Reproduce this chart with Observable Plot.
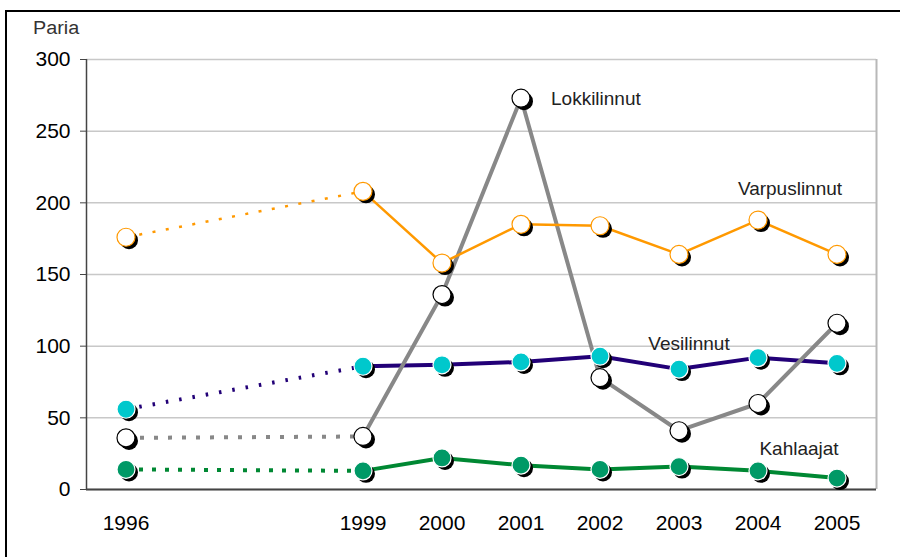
<!DOCTYPE html>
<html>
<head>
<meta charset="utf-8">
<script src="https://cdn.jsdelivr.net/npm/d3@7"></script>
<script src="https://cdn.jsdelivr.net/npm/@observablehq/plot@0.6"></script>
<style>
  html, body { margin: 0; padding: 0; background: #fff; }
  #wrap { position: relative; width: 900px; height: 557px; overflow: hidden; font-family: "Liberation Sans", Arial, sans-serif; }
  #frame { position: absolute; left: 5px; top: 10px; width: 910px; height: 560px; border-left: 2px solid #000; border-top: 2px solid #000; }
  #unit { position: absolute; left: 33px; top: 17px; font-size: 18px; line-height: 22px; color: #333; transform: scaleX(1.1); transform-origin: left center; }
  #chart { position: absolute; left: 0; top: 0; }
</style>
</head>
<body>
<div id="wrap">
  <div id="frame"></div>
  <div id="chart"></div>
  <div id="unit">Paria</div>
</div>
<script>
const years = [1996, 1999, 2000, 2001, 2002, 2003, 2004, 2005];
const seriesNames = ["Kahlaajat", "Vesilinnut", "Lokkilinnut", "Varpuslinnut"];
const kahlaajat    = [14, 13, 22, 17, 14, 16, 13, 8];
const vesilinnut   = [56, 86, 87, 89, 93, 84, 92, 88];
const lokkilinnut  = [36, 37, 136, 273, 78, 41, 60, 116];
const varpuslinnut = [176, 208, 158, 185, 184, 164, 188, 164];
const yTicks = [0, 50, 100, 150, 200, 250, 300];
const unitLabel = "Paria";

// styling per series
const styles = {
  Kahlaajat:    {line: "#008833", width: 4,   dash: "4,9",  fill: "#009966", stroke: "#ffffff", labelAt: 2004, dx: 41, dy: -22, anchor: "middle"},
  Vesilinnut:   {line: "#220077", width: 4,   dash: "2.5,11", fill: "#00c8cc", stroke: "#ffffff", labelAt: 2003, dx: 10, dy: -25, anchor: "middle"},
  Lokkilinnut:  {line: "#888888", width: 4,   dash: "4,10", fill: "#ffffff", stroke: "#000000", labelAt: 2001, dx: 30, dy: 1, anchor: "start"},
  Varpuslinnut: {line: "#ff9900", width: 2.5, dash: "3,10.5", fill: "#ffffff", stroke: "#ff9900", labelAt: 2004, dx: 32, dy: -31, anchor: "middle"}
};
const valuesBy = {Kahlaajat: kahlaajat, Vesilinnut: vesilinnut, Lokkilinnut: lokkilinnut, Varpuslinnut: varpuslinnut};

const rows = [];
for (const s of seriesNames) years.forEach((yr, i) => rows.push({series: s, year: yr, value: valuesBy[s][i]}));

const marks = [
  Plot.gridY(yTicks, {stroke: "#c8c8c8", strokeOpacity: 1, strokeWidth: 1.5}),
  Plot.ruleX([2005.5], {stroke: "#b8b8b8", strokeWidth: 2}),
  Plot.ruleX([1995.5], {stroke: "#444", strokeWidth: 1.5}),
  Plot.ruleY([0], {stroke: "#444", strokeWidth: 2})
];
for (const s of seriesNames) {
  const st = styles[s];
  const d = rows.filter(r => r.series === s);
  marks.push(Plot.line(d.filter(r => r.year <= 1999), {x: "year", y: "value", stroke: st.line, strokeWidth: st.width, strokeDasharray: st.dash, strokeLinecap: "butt"}));
  marks.push(Plot.line(d.filter(r => r.year >= 1999), {x: "year", y: "value", stroke: st.line, strokeWidth: st.width}));
}
for (const s of seriesNames) {
  const st = styles[s];
  const d = rows.filter(r => r.series === s);
  marks.push(Plot.dot(d, {x: "year", y: "value", r: 9, fill: "#000", dx: 3, dy: 3}));
  marks.push(Plot.dot(d, {x: "year", y: "value", r: 9, fill: st.fill, stroke: st.stroke, strokeWidth: 1.2}));
  marks.push(Plot.text(d.filter(r => r.year === st.labelAt), {x: "year", y: "value", text: "series", dx: st.dx, dy: st.dy, textAnchor: st.anchor, fontSize: 19, fill: "#222"}));
}
marks.push(Plot.axisY({ticks: yTicks, tickSize: 6, tickPadding: 10, fontSize: 21, stroke: "#444"}));
marks.push(Plot.axisX({ticks: years, tickSize: 0, tickPadding: 26, fontSize: 21, tickFormat: d => String(d)}));

const chart = Plot.plot({
  width: 900,
  height: 557,
  marginLeft: 86,
  marginRight: 24,
  marginTop: 59,
  marginBottom: 68,
  style: {fontFamily: "'Liberation Sans', Arial, sans-serif", color: "#000", background: "transparent", overflow: "visible"},
  x: {domain: [1995.5, 2005.5], label: null},
  y: {domain: [0, 300], label: null},
  marks
});
document.getElementById("chart").appendChild(chart);
document.getElementById("unit").textContent = unitLabel;
</script>
</body>
</html>
